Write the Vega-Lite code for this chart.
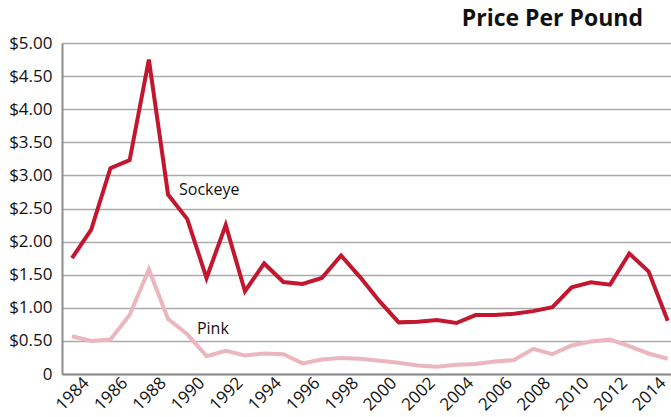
{
  "$schema": "https://vega.github.io/schema/vega-lite/v6.json",
  "width": 609,
  "height": 331,
  "autosize": "none",
  "padding": {"left": 62, "top": 43, "right": 0, "bottom": 43},
  "background": "white",
  "title": {
    "text": "Price Per Pound",
    "anchor": "end",
    "frame": "group",
    "font": "Open Sans",
    "fontSize": 23,
    "fontWeight": "bold",
    "color": "#111111",
    "dx": -28,
    "offset": 3
  },
  "config": {
    "view": {"stroke": null},
    "font": "Open Sans"
  },
  "datasets": {
    "prices": [
      {"year": 1983, "series": "Sockeye", "price": 1.75},
      {"year": 1984, "series": "Sockeye", "price": 2.18},
      {"year": 1985, "series": "Sockeye", "price": 3.11},
      {"year": 1986, "series": "Sockeye", "price": 3.23},
      {"year": 1987, "series": "Sockeye", "price": 4.75},
      {"year": 1988, "series": "Sockeye", "price": 2.71},
      {"year": 1989, "series": "Sockeye", "price": 2.34},
      {"year": 1990, "series": "Sockeye", "price": 1.45},
      {"year": 1991, "series": "Sockeye", "price": 2.25},
      {"year": 1992, "series": "Sockeye", "price": 1.25},
      {"year": 1993, "series": "Sockeye", "price": 1.67},
      {"year": 1994, "series": "Sockeye", "price": 1.39},
      {"year": 1995, "series": "Sockeye", "price": 1.36},
      {"year": 1996, "series": "Sockeye", "price": 1.45},
      {"year": 1997, "series": "Sockeye", "price": 1.79},
      {"year": 1998, "series": "Sockeye", "price": 1.46},
      {"year": 1999, "series": "Sockeye", "price": 1.10},
      {"year": 2000, "series": "Sockeye", "price": 0.78},
      {"year": 2001, "series": "Sockeye", "price": 0.79},
      {"year": 2002, "series": "Sockeye", "price": 0.815},
      {"year": 2003, "series": "Sockeye", "price": 0.77},
      {"year": 2004, "series": "Sockeye", "price": 0.89},
      {"year": 2005, "series": "Sockeye", "price": 0.89},
      {"year": 2006, "series": "Sockeye", "price": 0.91},
      {"year": 2007, "series": "Sockeye", "price": 0.95},
      {"year": 2008, "series": "Sockeye", "price": 1.01},
      {"year": 2009, "series": "Sockeye", "price": 1.31},
      {"year": 2010, "series": "Sockeye", "price": 1.385},
      {"year": 2011, "series": "Sockeye", "price": 1.35},
      {"year": 2012, "series": "Sockeye", "price": 1.82},
      {"year": 2013, "series": "Sockeye", "price": 1.55},
      {"year": 2014, "series": "Sockeye", "price": 0.805},
      {"year": 1983, "series": "Pink", "price": 0.57},
      {"year": 1984, "series": "Pink", "price": 0.50},
      {"year": 1985, "series": "Pink", "price": 0.52},
      {"year": 1986, "series": "Pink", "price": 0.89},
      {"year": 1987, "series": "Pink", "price": 1.58},
      {"year": 1988, "series": "Pink", "price": 0.83},
      {"year": 1989, "series": "Pink", "price": 0.60},
      {"year": 1990, "series": "Pink", "price": 0.27},
      {"year": 1991, "series": "Pink", "price": 0.35},
      {"year": 1992, "series": "Pink", "price": 0.28},
      {"year": 1993, "series": "Pink", "price": 0.31},
      {"year": 1994, "series": "Pink", "price": 0.30},
      {"year": 1995, "series": "Pink", "price": 0.16},
      {"year": 1996, "series": "Pink", "price": 0.22},
      {"year": 1997, "series": "Pink", "price": 0.24},
      {"year": 1998, "series": "Pink", "price": 0.23},
      {"year": 1999, "series": "Pink", "price": 0.20},
      {"year": 2000, "series": "Pink", "price": 0.17},
      {"year": 2001, "series": "Pink", "price": 0.13},
      {"year": 2002, "series": "Pink", "price": 0.11},
      {"year": 2003, "series": "Pink", "price": 0.14},
      {"year": 2004, "series": "Pink", "price": 0.15},
      {"year": 2005, "series": "Pink", "price": 0.19},
      {"year": 2006, "series": "Pink", "price": 0.21},
      {"year": 2007, "series": "Pink", "price": 0.38},
      {"year": 2008, "series": "Pink", "price": 0.30},
      {"year": 2009, "series": "Pink", "price": 0.43},
      {"year": 2010, "series": "Pink", "price": 0.49},
      {"year": 2011, "series": "Pink", "price": 0.52},
      {"year": 2012, "series": "Pink", "price": 0.42},
      {"year": 2013, "series": "Pink", "price": 0.31},
      {"year": 2014, "series": "Pink", "price": 0.23}
    ],
    "labels": [
      {"year": 1988.57, "price": 2.78, "label": "Sockeye"},
      {"year": 1989.5, "price": 0.68, "label": "Pink"}
    ]
  },
  "layer": [
    {
      "data": {"name": "prices"},
      "mark": {"type": "line", "strokeWidth": 4, "strokeJoin": "miter", "clip": false},
      "encoding": {
        "x": {
          "field": "year",
          "type": "quantitative",
          "scale": {"domain": [1982.48, 2014.17], "nice": false, "zero": false},
          "axis": {
            "title": null,
            "values": [1984, 1986, 1988, 1990, 1992, 1994, 1996, 1998, 2000, 2002, 2004, 2006, 2008, 2010, 2012, 2014],
            "tickCount": 40,
            "format": "d",
            "labelAngle": -45,
            "labelAlign": "right",
            "labelBaseline": "middle",
            "labelFontSize": 17,
            "labelColor": "#111111",
            "labelPadding": 6,
            "labelOffset": -5,
            "ticks": false,
            "grid": false,
            "domainColor": "#8c8c8c",
            "domainWidth": 2,
            "labelOverlap": false,
            "labelBound": false,
            "labelFlush": false
          }
        },
        "y": {
          "field": "price",
          "type": "quantitative",
          "scale": {"domain": [0, 5], "nice": false},
          "axis": {
            "title": null,
            "values": [0, 0.5, 1, 1.5, 2, 2.5, 3, 3.5, 4, 4.5, 5],
            "tickCount": 20,
            "labelExpr": "datum.value == 0 ? '0' : '$' + format(datum.value, '.2f')",
            "labelFontSize": 17,
            "labelColor": "#111111",
            "labelPadding": 10,
            "labelOverlap": false,
            "labelFlush": false,
            "ticks": false,
            "grid": true,
            "gridColor": "#ababab",
            "gridWidth": 1.5,
            "domainColor": "#8c8c8c",
            "domainWidth": 2
          }
        },
        "color": {
          "field": "series",
          "type": "nominal",
          "scale": {"domain": ["Sockeye", "Pink"], "range": ["#c3162f", "#ecb6bf"]},
          "legend": null
        }
      }
    },
    {
      "data": {"name": "labels"},
      "mark": {"type": "text", "align": "left", "baseline": "middle", "fontSize": 16, "font": "Open Sans", "color": "#111111"},
      "encoding": {
        "x": {"field": "year", "type": "quantitative"},
        "y": {"field": "price", "type": "quantitative"},
        "text": {"field": "label"}
      }
    }
  ]
}
